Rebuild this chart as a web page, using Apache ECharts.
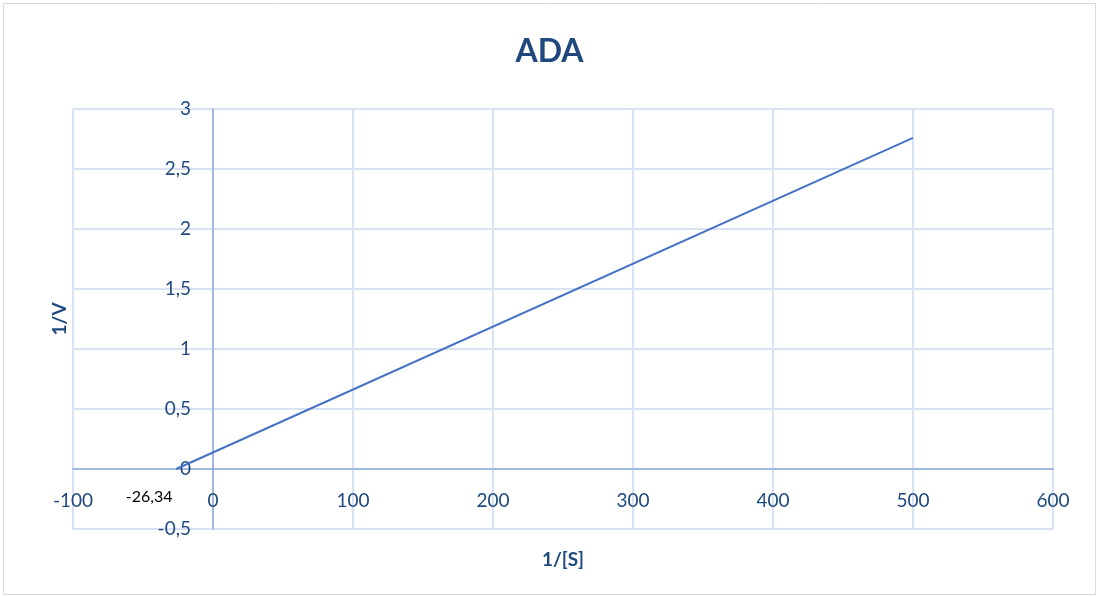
<!DOCTYPE html>
<html><head><meta charset="utf-8">
<script src="https://cdn.jsdelivr.net/npm/echarts@6/dist/echarts.min.js"></script>
<style>html,body{margin:0;padding:0;background:#fff}#c{width:1099px;height:596px}</style>
</head><body><div id="c"></div>
<script>
const xValues = [-26.34, 500];
const yValues = [0, 2.76];
const pointLabels = ['-26,34', ''];
const titleText = 'ADA';
const xName = '1/[S]';
const yName = '1/V';

const FONT = 'Lato, "Open Sans", sans-serif';
const TXT = '#1F497D';
const fmt = v => String(v).replace('.', ',');

const data = xValues.map((x, i) => {
  const d = { value: [x, yValues[i]] };
  if (pointLabels[i]) {
    d.label = { show: true, formatter: pointLabels[i], position: 'inside', offset: [-27, 28],
      color: '#000', fontSize: 16, fontFamily: FONT };
  }
  return d;
});

const chart = echarts.init(document.getElementById('c'));
chart.setOption({
  animation: false,
  title: { text: titleText, left: 'center', top: 31,
    textStyle: { fontFamily: FONT, fontWeight: 'bold', fontSize: 32, color: TXT } },
  graphic: [{ type: 'rect', shape: { x: 3.5, y: 3.5, width: 1092, height: 591 },
    style: { fill: 'none', stroke: '#d9d9d9', lineWidth: 1 }, silent: true }],
  grid: { left: 73, right: 46, top: 109, bottom: 67, containLabel: false, outerBoundsMode: 'none' },
  xAxis: {
    type: 'value', min: -100, max: 600, interval: 100,
    position: 'bottom', offset: -60,
    name: xName, nameLocation: 'middle', nameGap: 81,
    nameTextStyle: { fontFamily: FONT, fontWeight: 'bold', fontSize: 19, color: TXT },
    axisLine: { onZero: false, lineStyle: { color: '#8EAADB', width: 1.5 } },
    axisTick: { show: false },
    axisLabel: { margin: 22, fontFamily: FONT, fontSize: 19, color: TXT, formatter: fmt },
    splitLine: { lineStyle: { color: '#D9E2F3', width: 2 } }
  },
  yAxis: {
    type: 'value', min: -0.5, max: 3, interval: 0.5,
    position: 'left', offset: -140,
    name: yName, nameLocation: 'middle', nameGap: 144, nameRotate: 90,
    nameTextStyle: { fontFamily: FONT, fontWeight: 'bold', fontSize: 19, color: TXT },
    axisLine: { show: true, onZero: false, lineStyle: { color: '#8EAADB', width: 1.5 } },
    axisTick: { show: false },
    axisLabel: { margin: 22, fontFamily: FONT, fontSize: 19, color: TXT, formatter: fmt },
    splitLine: { lineStyle: { color: '#D9E2F3', width: 2 } }
  },
  series: [{
    type: 'line', data: data, showSymbol: true, symbol: 'circle', symbolSize: 0.1,
    itemStyle: { color: '#4472C4' },
    lineStyle: { color: '#4472C4', width: 2 },
    z: 5
  }]
});
</script></body></html>
